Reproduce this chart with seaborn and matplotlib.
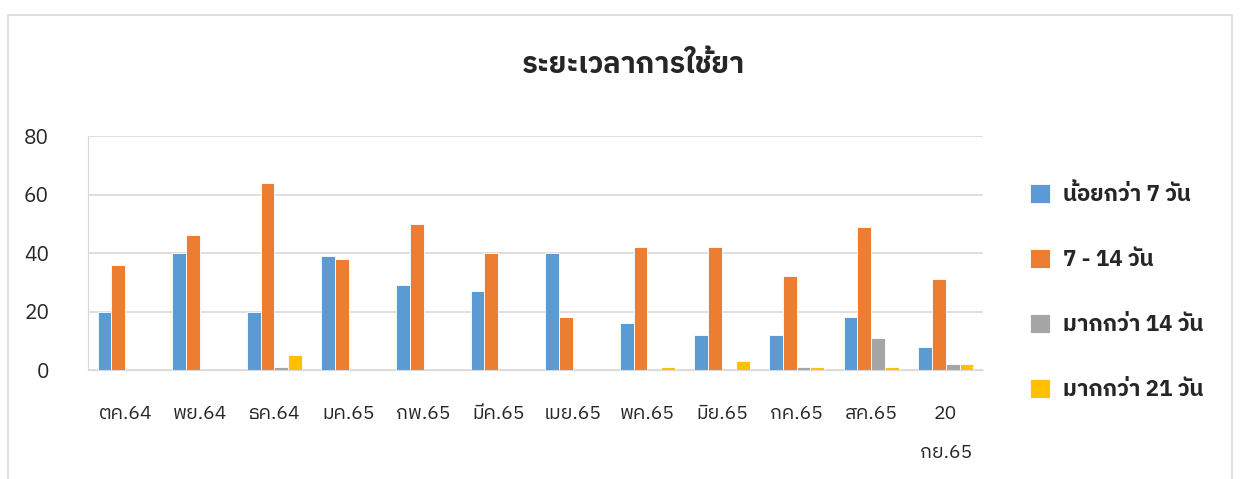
import pandas as pd
import seaborn as sns
import matplotlib.pyplot as plt
from matplotlib import font_manager
from matplotlib.ft2font import FT2Font
from matplotlib.patches import Rectangle

# data
months = ['ตค.64', 'พย.64', 'ธค.64', 'มค.65', 'กพ.65', 'มีค.65', 'เมย.65',
          'พค.65', 'มิย.65', 'กค.65', 'สค.65', '20\nกย.65']
series = ['น้อยกว่า 7 วัน', '7 - 14 วัน', 'มากกว่า 14 วัน', 'มากกว่า 21 วัน']
under_7 = [20, 40, 20, 39, 29, 27, 40, 16, 12, 12, 18, 8]
d7_14 = [36, 46, 64, 38, 50, 40, 18, 42, 42, 32, 49, 31]
over_14 = [0, 0, 1, 0, 0, 0, 0, 0, 0, 1, 11, 2]
over_21 = [0, 0, 5, 0, 0, 0, 0, 1, 3, 1, 1, 2]
colors = ['#5B9BD5', '#ED7D31', '#A5A5A5', '#FFC000']

# find a font that has Thai glyphs
thai_font = None
for f in font_manager.fontManager.ttflist:
    try:
        if 0x0E01 in FT2Font(f.fname).get_charmap():
            thai_font = f.name
            if 'Sans' in f.name:
                break
    except Exception:
        pass

sns.set_style('white')
fams = ([thai_font] if thai_font else []) + ['DejaVu Sans']
plt.rcParams['font.family'] = fams

df = pd.DataFrame({
    'month': months * 4,
    'group': sum([[s] * len(months) for s in series], []),
    'value': under_7 + d7_14 + over_14 + over_21,
})

fig = plt.figure(figsize=(12.44, 4.79), dpi=100)
ax = fig.add_axes([88 / 1244, 1 - 370 / 479, (983 - 88) / 1244, (370 - 136) / 479])

sns.barplot(data=df, x='month', y='value', hue='group', hue_order=series,
            order=months, palette=colors, saturation=1, width=0.74, ax=ax,
            edgecolor='white', linewidth=0.6, errorbar=None)

ax.set_ylim(0, 80)
ax.set_yticks([0, 20, 40, 60, 80])
ax.set_xlim(-0.5, len(months) - 0.5)
ax.grid(axis='y', color='#d9d9d9', linewidth=1.2)
ax.set_axisbelow(True)
for s in ['top', 'right']:
    ax.spines[s].set_visible(False)
ax.spines['left'].set_color('#d9d9d9')
ax.spines['bottom'].set_color('#d9d9d9')
ax.tick_params(axis='y', labelsize=15, length=0, pad=28)
ax.tick_params(axis='x', labelsize=14, length=0, pad=25)
for lbl in ax.get_xticklabels():
    lbl.set_linespacing(2.5)
    lbl.set_verticalalignment('top')
ax.set_xlabel('')
ax.set_ylabel('')

ax.legend(loc='center left', bbox_to_anchor=(1.03, 0.335), frameon=False,
          prop={'size': 16, 'weight': 'bold'}, labelspacing=1.98,
          handlelength=0.9, handleheight=0.9, handletextpad=0.6)

fig.text(633 / 1244, 1 - 65 / 479, 'ระยะเวลาการใช้ยา', ha='center', va='center',
         fontsize=21, fontweight='bold')

# outer chart border
fig.patches.append(Rectangle((8 / 1244, -0.1), (1232 - 8) / 1244, 1 - 15 / 479 + 0.1,
                             transform=fig.transFigure, fill=False,
                             edgecolor='#d9d9d9', linewidth=1.2))

fig.savefig('out.png', dpi=100)
